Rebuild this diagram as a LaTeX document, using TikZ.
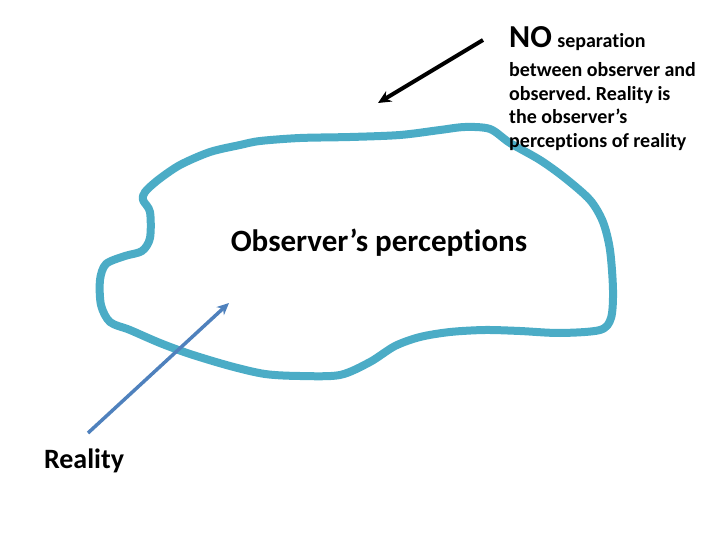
\documentclass[tikz,border=0pt]{standalone}
\usepackage{fontspec}
\setmainfont{Carlito}[Ligatures=NoCommon]
\usetikzlibrary{arrows.meta}

\definecolor{blobblue}{RGB}{75,172,198}
\definecolor{arrowblue}{RGB}{79,129,189}

\tikzset{
    blobline/.style={draw=blobblue, line width=8pt, line join=round},
    notetext/.style={anchor=base west, inner sep=0pt, font=\bfseries\fontsize{20}{23.5}\selectfont}
}

\begin{document}
\frenchspacing
\begin{tikzpicture}[x=1pt,y=-1pt]
        \useasboundingbox (0,0) rectangle (720,540);

        % the observer's perceptions
        \draw[blobline] plot[smooth cycle, tension=0.5] coordinates {
            (145,192) (158,180) (180,165) (210,152) (240,145) (260,141)
            (300,138) (350,137) (400,135) (440,130) (465,127) (490,129)
            (510,143) (540,160) (565,178) (590,200) (603,222) (610,250)
            (613,290) (611,318) (600,330) (560,333) (520,331) (485,330)
            (450,332) (420,337) (395,346) (370,362) (340,375) (300,376)
            (265,374) (230,366) (190,354) (160,343) (130,330) (110,322)
            (101,305) (100,280) (106,264) (125,256) (142,251) (150,238)
            (150,212) (143,200)};

        \node[font=\bfseries\fontsize{31}{31}\selectfont] (perceptions) at (379,243) {Observer’s perceptions};
        \node[font=\bfseries\fontsize{28}{28}\selectfont] (reality) at (84,461) {Reality};

        \node[notetext, font=\bfseries\fontsize{32}{32}\selectfont] (no) at (509,48) {NO};
        \node[notetext] (separation) at ([xshift=5pt]no.base east) {separation};
        \node[notetext] (note1) at (509,77) {between observer and};
        \node[notetext] (note2) at (509,100.5) {observed. Reality is};
        \node[notetext] (note3) at (509,124) {the observer’s};
        \node[notetext] (note4) at (509,147.5) {perceptions of reality};

        \coordinate (notetail) at (483,40);
        \coordinate (notetip) at (378,103);
        \coordinate (realitytail) at (88,433);
        \coordinate (realitytip) at (229,303);

        \draw[-{Stealth[length=13pt,width=12pt]}, line width=4pt] (notetail) -- (notetip);
        \draw[-{Stealth[length=12pt,width=11pt]}, line width=3.5pt, arrowblue] (realitytail) -- (realitytip);
    \end{tikzpicture}
\end{document}
